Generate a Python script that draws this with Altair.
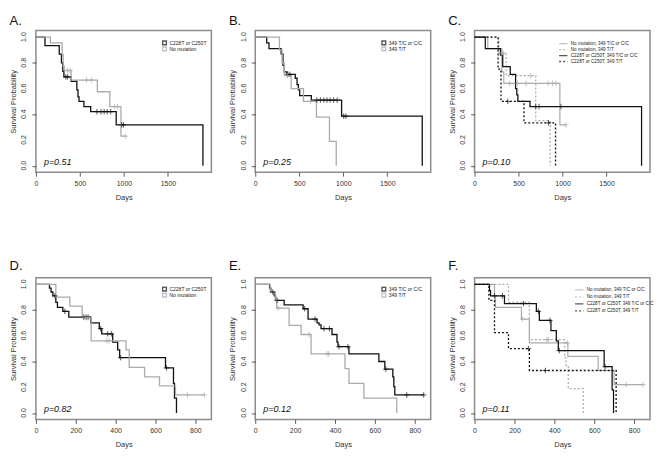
import altair as alt
import pandas as pd

# ---------------- data (days, survival probability) ----------------
# Panel A
A_mut = [(0,1.0),(103,0.933),(265,0.867),(290,0.80),(305,0.733),(318,0.69),(400,0.655),(465,0.59),(478,0.535),(490,0.50),(545,0.46),(622,0.42),(912,0.318),(1897,0.0)]
A_mut_cens = [(340,0.69),(360,0.69),(693,0.42),(740,0.42),(775,0.42),(810,0.42),(850,0.42),(975,0.318),(995,0.318)]
A_nomut = [(0,1.0),(164,0.955),(298,0.864),(310,0.773),(322,0.74),(400,0.666),(698,0.575),(840,0.46),(966,0.23),(1019,0.23)]
A_nomut_cens = [(360,0.74),(388,0.74),(575,0.666),(630,0.666),(895,0.46),(925,0.46),(1019,0.23)]
# Panel B
B_tc = [(0,1.0),(130,0.955),(156,0.91),(294,0.87),(315,0.78),(330,0.73),(360,0.71),(455,0.68),(475,0.63),(490,0.59),(505,0.545),(637,0.51),(981,0.385),(1897,0.0)]
B_tc_cens = [(370,0.71),(393,0.71),(700,0.51),(740,0.51),(780,0.51),(815,0.51),(850,0.51),(890,0.51),(930,0.51),(1005,0.385),(1030,0.385)]
B_tt = [(0,1.0),(275,0.9),(305,0.8),(330,0.7),(408,0.6),(548,0.5),(695,0.378),(843,0.189),(920,0.0)]
B_tt_cens = [(365,0.7),(630,0.5)]
# Panel C
C_nm_tc = [(0,1.0),(150,0.91),(310,0.73),(332,0.64),(969,0.318),(1038,0.318)]
C_nm_tc_cens = [(400,0.64),(485,0.64),(584,0.64),(836,0.64),(885,0.64),(924,0.64),(1038,0.318)]
C_nm_tt = [(0,1.0),(275,0.875),(359,0.70),(695,0.35),(859,0.0)]
C_nm_tt_cens = [(305,0.875),(325,0.875),(637,0.70)]
C_mu_tc = [(0,1.0),(122,0.91),(294,0.86),(320,0.77),(405,0.71),(466,0.6),(480,0.55),(492,0.5),(630,0.46),(1897,0.0)]
C_mu_tc_cens = [(695,0.46),(733,0.46),(981,0.46)]
C_mu_tt = [(0,1.0),(267,0.75),(300,0.5),(561,0.333),(920,0.0)]
C_mu_tt_cens = [(378,0.5),(840,0.333)]
# Panel D
D_mut = [(0,1.0),(68,0.97),(76,0.94),(85,0.91),(100,0.86),(108,0.82),(135,0.79),(165,0.745),(275,0.70),(318,0.655),(330,0.615),(385,0.55),(410,0.49),(420,0.43),(650,0.35),(690,0.23),(695,0.115),(705,0.0)]
D_mut_cens = [(95,0.91),(145,0.79),(240,0.745),(252,0.745),(262,0.745),(325,0.655),(360,0.615),(378,0.615),(425,0.43),(655,0.35)]
D_nomut = [(0,1.0),(100,0.90),(170,0.83),(232,0.74),(277,0.56),(452,0.49),(468,0.355),(545,0.28),(620,0.21),(700,0.14),(845,0.14)]
D_nomut_cens = [(250,0.74),(262,0.74),(355,0.56),(367,0.56),(760,0.14),(845,0.14)]
# Panel E
E_tc = [(0,1.0),(72,0.97),(78,0.94),(95,0.91),(102,0.875),(145,0.84),(240,0.81),(265,0.73),(310,0.70),(320,0.685),(330,0.655),(385,0.61),(410,0.55),(415,0.515),(470,0.46),(620,0.40),(650,0.34),(690,0.28),(695,0.205),(700,0.14),(845,0.14)]
E_tc_cens = [(88,0.94),(110,0.875),(248,0.81),(300,0.73),(345,0.655),(372,0.655),(420,0.515),(465,0.515),(655,0.34),(760,0.14),(845,0.14)]
E_tt = [(0,1.0),(75,0.94),(100,0.88),(108,0.815),(170,0.68),(230,0.61),(280,0.46),(450,0.345),(470,0.23),(545,0.115),(710,0.0)]
E_tt_cens = [(115,0.815),(270,0.61),(360,0.46),(368,0.46)]
# Panel F
F_nm_tc = [(0,1.0),(100,0.91),(105,0.82),(235,0.73),(275,0.545),(468,0.44),(620,0.33),(700,0.22),(845,0.22)]
F_nm_tc_cens = [(240,0.73),(465,0.545),(760,0.22),(845,0.22)]
F_nm_tt = [(0,1.0),(170,0.86),(275,0.57),(452,0.43),(458,0.37),(470,0.19),(545,0.0)]
F_nm_tt_cens = [(362,0.57),(370,0.57)]
F_mu_tc = [(0,1.0),(75,0.95),(80,0.91),(150,0.85),(310,0.79),(325,0.72),(383,0.64),(410,0.56),(420,0.485),(650,0.36),(690,0.18),(697,0.0)]
F_mu_tc_cens = [(100,0.91),(140,0.91),(245,0.85),(320,0.79),(378,0.72),(425,0.485),(655,0.36)]
F_mu_tt = [(0,1.0),(72,0.875),(100,0.625),(170,0.5),(275,0.33),(710,0.0)]
F_mu_tt_cens = [(270,0.5),(355,0.33)]

y_ticks = [0.0, 0.2, 0.4, 0.6, 0.8, 1.0]
y_tick_labels = ["0.0", "0.2", "0.4", "0.6", "0.8", "1.0"]
p_values = {"A": "p=0.51", "B": "p=0.25", "C": "p=0.10", "D": "p=0.82", "E": "p=0.12", "F": "p=0.11"}

BLACK = "#111111"
GREY = "#ababab"
FONT = "Liberation Sans"

W, H = 176, 142
YDOM = [-0.05, 1.05]


def panel(letter, series, kind, legend_xy, xmax, xticks, title_offset):
    rows, cens = [], []
    for s in series:
        for k, (t, v) in enumerate(s["pts"]):
            rows.append({"group": s["name"], "t": t, "s": v, "k": k})
        for t, v in s["cens"]:
            cens.append({"t": t, "s": v, "col": s["color"]})
    dl = pd.DataFrame(rows)
    dc = pd.DataFrame(cens)
    names = [s["name"] for s in series]
    colors = [s["color"] for s in series]

    xs = alt.Scale(domain=[0, xmax], nice=False, zero=False)
    ys = alt.Scale(domain=YDOM, nice=False, zero=False)
    xaxis = alt.Axis(values=xticks, title="Days", labelFlush=False, labelPadding=3,
                     titlePadding=7, format="d", labelOverlap=False)
    # y tick labels are drawn by a text layer below (rotated like R's labels)
    yaxis = alt.Axis(values=y_ticks, title="Survival Probability", labels=False, titlePadding=14)

    if kind == "square":
        leg = alt.Legend(orient="none", legendX=legend_xy[0], legendY=legend_xy[1], title=None,
                         symbolType="square", symbolSize=14, symbolStrokeWidth=1.4,
                         labelFontSize=5.0, labelFont=FONT, labelColor="#222", rowPadding=0,
                         clipHeight=5.7, padding=0, labelOffset=2, labelLimit=300)
        enc = dict(color=alt.Color("group:N", scale=alt.Scale(domain=names, range=colors), legend=leg))
        base = alt.Chart(dl).mark_line(interpolate="step-after", strokeWidth=1.3)
    else:
        leg = alt.Legend(orient="none", legendX=legend_xy[0], legendY=legend_xy[1], title=None,
                         symbolType="stroke", symbolSize=70,
                         labelFontSize=4.6, labelFont=FONT, labelColor="#222", rowPadding=0,
                         clipHeight=legend_xy[2], padding=0, labelOffset=2.5, labelLimit=300)
        dashes = [s["dash"] for s in series]
        widths = [s["width"] for s in series]
        enc = dict(
            color=alt.Color("group:N", scale=alt.Scale(domain=names, range=colors), legend=leg),
            strokeDash=alt.StrokeDash("group:N", scale=alt.Scale(domain=names, range=dashes), legend=leg),
            strokeWidth=alt.StrokeWidth("group:N", scale=alt.Scale(domain=names, range=widths), legend=leg),
        )
        base = alt.Chart(dl).mark_line(interpolate="step-after")

    lines = base.encode(
        x=alt.X("t:Q", scale=xs, axis=xaxis),
        y=alt.Y("s:Q", scale=ys, axis=yaxis),
        order="k:Q",
        **enc,
    )
    marks = alt.Chart(dc).mark_point(shape="M-1,0L1,0M0,-1L0,1", filled=False, size=30, strokeWidth=1).encode(
        x=alt.X("t:Q", scale=xs), y=alt.Y("s:Q", scale=ys),
        color=alt.Color("col:N", scale=None),
    )
    ylab = alt.Chart(pd.DataFrame({"v": y_ticks, "lab": y_tick_labels})).mark_text(
        angle=270, align="center", baseline="middle", fontSize=7, font=FONT, color="#333"
    ).encode(x=alt.value(-11.5), y=alt.Y("v:Q", scale=ys), text="lab:N")
    ptxt = alt.Chart(pd.DataFrame({"t": [8 * xmax / W], "s": [0.005], "label": [p_values[letter]]})).mark_text(
        align="left", baseline="alphabetic", fontStyle="italic", fontSize=9, font=FONT, color="#111"
    ).encode(x=alt.X("t:Q", scale=xs), y=alt.Y("s:Q", scale=ys), text="label:N")

    return alt.layer(lines, marks, ylab, ptxt).properties(
        width=W, height=H,
        title=alt.TitleParams(letter + ".", anchor="start", fontSize=13, font=FONT,
                              fontWeight="normal", offset=title_offset, color="#111"),
    )


def S(name, pts, cens, color, dash=(1, 0), width=1.3):
    return {"name": name, "pts": pts, "cens": cens, "color": color, "dash": list(dash), "width": width}


pA = panel("A", [S("C228T or C250T", A_mut, A_mut_cens, BLACK), S("No mutation", A_nomut, A_nomut_cens, GREY)],
           "square", (126, 9.5), 1993, [0, 500, 1000, 1500], 3)
pB = panel("B", [S("349 T/C or C/C", B_tc, B_tc_cens, BLACK), S("349 T/T", B_tt, B_tt_cens, GREY)],
           "square", (126, 9.5), 1993, [0, 500, 1000, 1500], 3)
pC = panel("C", [S("No mutation, 349 T/C or C/C", C_nm_tc, C_nm_tc_cens, GREY, (1, 0), 1.2),
                 S("No mutation, 349 T/T", C_nm_tt, C_nm_tt_cens, GREY, (2, 2), 1.3),
                 S("C228T or C250T, 349 T/C or C/C", C_mu_tc, C_mu_tc_cens, BLACK, (1, 0), 2.0),
                 S("C228T or C250T, 349 T/T", C_mu_tt, C_mu_tt_cens, BLACK, (2, 2), 1.5)],
           "lines", (84, 10, 6), 1993, [0, 500, 1000, 1500], 3)
pD = panel("D", [S("C228T or C250T", D_mut, D_mut_cens, BLACK), S("No mutation", D_nomut, D_nomut_cens, GREY)],
           "square", (126, 8.5), 880, [0, 200, 400, 600, 800], 5)
pE = panel("E", [S("349 T/C or C/C", E_tc, E_tc_cens, BLACK), S("349 T/T", E_tt, E_tt_cens, GREY)],
           "square", (126, 8.5), 880, [0, 200, 400, 600, 800], 5)
pF = panel("F", [S("No mutation, 349 T/C or C/C", F_nm_tc, F_nm_tc_cens, GREY, (1, 0), 1.2),
                 S("No mutation, 349 T/T", F_nm_tt, F_nm_tt_cens, GREY, (2, 2), 1.3),
                 S("C228T or C250T, 349 T/C or C/C", F_mu_tc, F_mu_tc_cens, BLACK, (1, 0), 2.0),
                 S("C228T or C250T, 349 T/T", F_mu_tt, F_mu_tt_cens, BLACK, (2, 2), 1.5)],
           "lines", (100, 9.5, 5.2), 880, [0, 200, 400, 600, 800], 5)

res = dict(color="independent", strokeDash="independent", strokeWidth="independent")

chart = alt.concat(pA, pB, pC, pD, pE, pF, columns=3, spacing={"row": 106, "column": 44},
                   bounds="flush").resolve_scale(**res).properties(
    padding={"left": 0, "top": 5, "right": 2, "bottom": 2}
).configure_view(
    stroke="#8c8c8c", strokeWidth=1.5
).configure_axis(
    grid=False, domain=False, tickColor="#333", tickSize=4, tickWidth=0.8,
    labelFont=FONT, labelFontSize=7, labelColor="#333", labelOverlap=False,
    titleFont=FONT, titleFontSize=7.5, titleFontWeight="normal", titleColor="#333",
)

chart.save("out.html", embed_options={"renderer": "svg", "actions": False})
